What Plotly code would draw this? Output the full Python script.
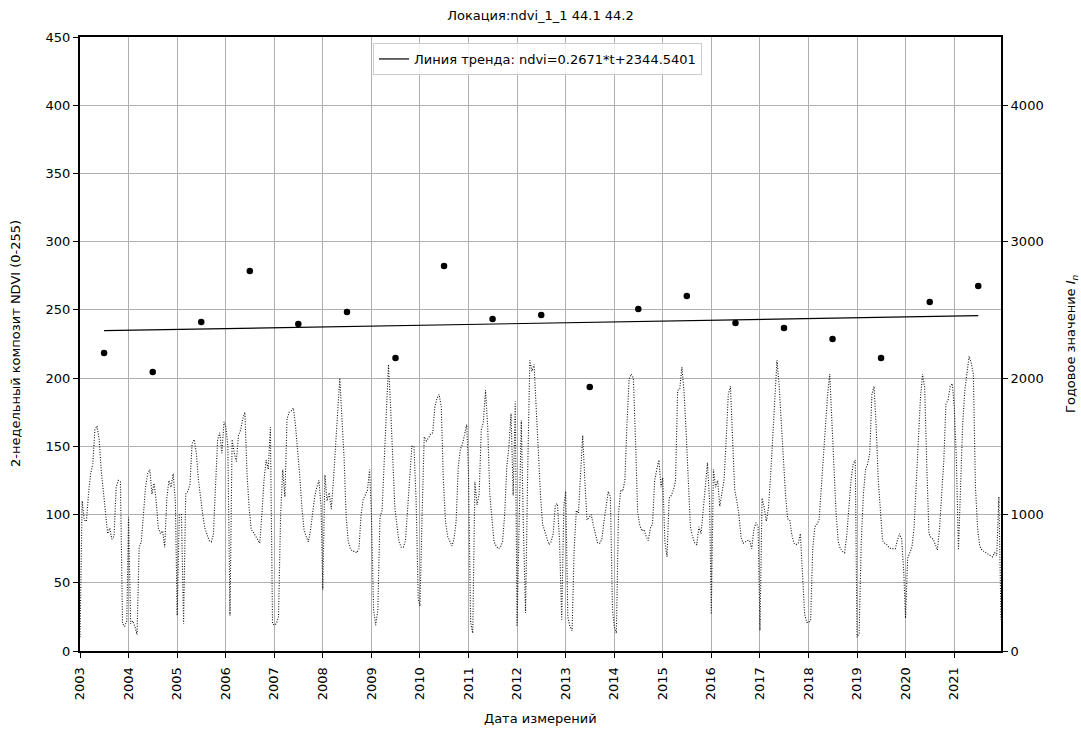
import datetime as dt
import plotly.graph_objects as go

# ---------------- data ----------------
years = list(range(2003, 2022))

ndvi_2003 = [10, 110, 96, 95, 115, 130, 137, 162, 165, 155, 132, 115, 100, 86, 90, 82, 84, 120, 125, 124, 20, 18, 22]
ndvi_2004 = [98, 20, 22, 18, 12, 76, 80, 100, 120, 130, 133, 115, 123, 110, 90, 86, 88, 76, 112, 125, 120, 130, 110]
ndvi_2005 = [26, 100, 100, 20, 115, 117, 122, 152, 155, 145, 125, 110, 100, 90, 85, 81, 80, 85, 120, 155, 160, 145, 168]
ndvi_2006 = [165, 150, 26, 155, 145, 139, 158, 162, 170, 175, 130, 105, 89, 87, 84, 81, 79, 100, 125, 140, 133, 164, 20]
ndvi_2007 = [19, 20, 25, 100, 133, 113, 170, 175, 176, 178, 165, 148, 128, 105, 89, 84, 80, 88, 100, 113, 120, 125, 106]
ndvi_2008 = [45, 129, 110, 116, 104, 125, 147, 175, 200, 172, 142, 98, 80, 75, 73, 73, 72, 75, 100, 111, 115, 118, 133]
ndvi_2009 = [100, 30, 19, 30, 98, 103, 140, 180, 210, 179, 135, 105, 92, 80, 76, 76, 81, 105, 128, 150, 150, 110, 38]
ndvi_2010 = [33, 100, 157, 154, 156, 159, 160, 179, 185, 188, 179, 125, 95, 84, 80, 77, 82, 95, 135, 148, 152, 160, 166]
ndvi_2011 = [130, 21, 13, 124, 107, 115, 162, 168, 191, 165, 115, 95, 80, 77, 75, 76, 80, 100, 135, 150, 174, 114, 183]
ndvi_2012 = [18, 100, 169, 90, 28, 130, 213, 205, 210, 178, 140, 115, 93, 88, 83, 78, 80, 86, 107, 108, 80, 23, 106]
ndvi_2013 = [117, 25, 18, 15, 75, 103, 101, 130, 158, 125, 96, 98, 100, 92, 86, 79, 79, 82, 95, 108, 117, 113, 30]
ndvi_2014 = [18, 13, 100, 118, 117, 125, 167, 199, 203, 200, 155, 102, 92, 88, 89, 84, 81, 90, 93, 125, 133, 140, 120]
ndvi_2015 = [127, 80, 69, 112, 114, 118, 125, 191, 192, 208, 190, 160, 123, 91, 84, 79, 78, 91, 86, 106, 120, 138, 110]
ndvi_2016 = [27, 133, 120, 125, 106, 115, 125, 155, 188, 194, 155, 118, 110, 100, 83, 79, 80, 81, 81, 75, 89, 94, 91]
ndvi_2017 = [15, 112, 105, 95, 105, 128, 157, 186, 213, 195, 168, 140, 115, 97, 96, 85, 79, 78, 79, 86, 57, 27, 21]
ndvi_2018 = [21, 22, 75, 91, 93, 96, 120, 145, 170, 188, 203, 170, 130, 100, 80, 75, 73, 72, 85, 108, 125, 137, 140]
ndvi_2019 = [10, 13, 80, 115, 133, 137, 145, 188, 194, 165, 125, 100, 81, 79, 78, 76, 75, 75, 75, 81, 86, 82, 57]
ndvi_2020 = [24, 68, 72, 76, 90, 125, 160, 185, 203, 193, 135, 86, 83, 82, 78, 74, 90, 113, 140, 181, 184, 194, 196]
ndvi_2021 = [179, 142, 74, 130, 167, 191, 203, 216, 211, 203, 120, 90, 77, 74, 73, 72, 71, 70, 69, 72, 70, 113, 23]

ndvi_by_year = [ndvi_2003, ndvi_2004, ndvi_2005, ndvi_2006, ndvi_2007, ndvi_2008, ndvi_2009,
                ndvi_2010, ndvi_2011, ndvi_2012, ndvi_2013, ndvi_2014, ndvi_2015, ndvi_2016,
                ndvi_2017, ndvi_2018, ndvi_2019, ndvi_2020, ndvi_2021]

annual_values = [2184, 2045, 2411, 2785, 2397, 2485, 2147, 2822, 2433, 2463,
                 1935, 2507, 2602, 2404, 2367, 2287, 2147, 2558, 2675]

trend_slope = 0.2671
trend_intercept = 2344.5401
composite_step_days = 16

title_text = "Локация:ndvi_1_1 44.1 44.2"
legend_text = "Линия тренда: ndvi=0.2671*t+2344.5401"
x_title = "Дата измерений"
y_left_title = "2-недельный композит NDVI (0-255)"
y_right_title = "Годовое значение <i>I</i><sub><i>n</i></sub>"

# ---------------- build series ----------------
dates, vals = [], []
for y, row in zip(years, ndvi_by_year):
    for k, v in enumerate(row):
        dates.append(dt.date(y, 1, 1) + dt.timedelta(days=composite_step_days * k))
        vals.append(v)

annual_dates = [dt.date(y, 7, 1) for y in years]
origin = dt.date(years[0], 1, 1)
trend_dates = [annual_dates[0], annual_dates[-1]]
trend_vals = [trend_slope * ((d - origin).days / composite_step_days) + trend_intercept for d in trend_dates]

FONT = "DejaVu Sans"
fig = go.Figure()

fig.add_trace(go.Scatter(
    x=dates, y=vals, mode="lines",
    line=dict(color="#111111", width=1.1, dash="1px,1.6px"),
    showlegend=False, yaxis="y"))

fig.add_trace(go.Scatter(
    x=trend_dates, y=trend_vals, mode="lines",
    line=dict(color="black", width=1.2),
    name=legend_text, showlegend=True, yaxis="y2"))

fig.add_trace(go.Scatter(
    x=annual_dates, y=annual_values, mode="markers",
    marker=dict(color="black", size=6.5),
    showlegend=False, yaxis="y2"))

grid_color = "#b0b0b0"
fig.update_layout(
    width=1081, height=729,
    margin=dict(l=80, r=80, t=37, b=78),
    paper_bgcolor="white", plot_bgcolor="white",
    font=dict(family=FONT, size=13, color="black"),
    title=dict(text=title_text, x=0.5, xanchor="center", y=1 - 15 / 729, yanchor="middle",
               font=dict(family=FONT, size=13, color="black")),
    xaxis=dict(
        type="date",
        range=[dt.date(2003, 1, 1), dt.date(2021, 12, 19)],
        tickvals=[dt.date(y, 1, 1) for y in years],
        ticktext=[str(y) for y in years],
        tickangle=-90,
        ticks="outside", ticklen=5, tickwidth=1.2, tickcolor="black",
        ticklabelstandoff=4,
        showgrid=True, gridcolor=grid_color, gridwidth=1,
        showline=True, linecolor="black", linewidth=2, mirror=True,
        zeroline=False,
        tickfont=dict(family=FONT, size=13),
    ),
    yaxis=dict(
        range=[0, 450], tickvals=list(range(0, 451, 50)),
        ticks="outside", ticklen=5, tickwidth=1.2, tickcolor="black",
        showgrid=True, gridcolor=grid_color, gridwidth=1,
        showline=True, linecolor="black", linewidth=2,
        zeroline=False,
        tickfont=dict(family=FONT, size=13),
    ),
    yaxis2=dict(
        range=[0, 4500], tickvals=[0, 1000, 2000, 3000, 4000],
        overlaying="y", side="right",
        ticks="outside", ticklen=5, tickwidth=1.2, tickcolor="black",
        showgrid=False,
        showline=True, linecolor="black", linewidth=2,
        zeroline=False,
        tickfont=dict(family=FONT, size=13),
    ),
    legend=dict(
        x=(373 - 80) / 921, y=(651 - 43) / 614, xanchor="left", yanchor="top",
        bgcolor="rgba(255,255,255,0.85)", bordercolor="#cccccc", borderwidth=1,
        font=dict(family=FONT, size=13),
    ),
    annotations=[
        dict(text=x_title, xref="paper", yref="paper", x=0.5, y=-(718 - 651) / 614,
             xanchor="center", yanchor="middle", showarrow=False,
             font=dict(family=FONT, size=13)),
        dict(text=y_left_title, xref="paper", yref="paper", x=-(80 - 15) / 921, y=0.5,
             xanchor="center", yanchor="middle", textangle=-90, showarrow=False,
             font=dict(family=FONT, size=13)),
        dict(text=y_right_title, xref="paper", yref="paper", x=1 + (1071 - 1001) / 921, y=0.5,
             xanchor="center", yanchor="middle", textangle=-90, showarrow=False,
             font=dict(family=FONT, size=13)),
    ],
)

fig.write_html("out.html", config={"displayModeBar": False})
